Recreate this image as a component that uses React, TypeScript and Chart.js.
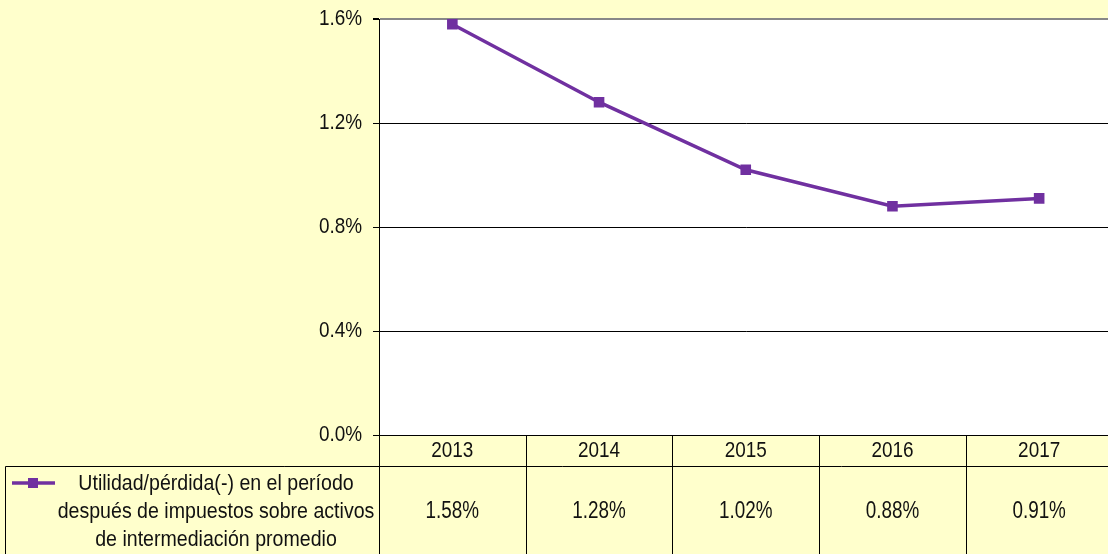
import React, { useEffect, useRef } from "react";
import { Chart, registerables } from "chart.js";

Chart.register(...registerables);

const years = ["2013", "2014", "2015", "2016", "2017"];
const values = [1.58, 1.28, 1.02, 0.88, 0.91];
const seriesLabel = [
  "Utilidad/pérdida(-) en el período",
  "después de impuestos sobre activos",
  "de intermediación promedio",
];
const yTicks = [0, 0.4, 0.8, 1.2, 1.6];

const BG = "#FFFFCC";
const PURPLE = "#7030A0";
const FONT = "'Liberation Sans', Arial, sans-serif";

function squeezed(ctx: any, text: string, x: number, y: number, align: string, size: number, sx: number) {
  ctx.save();
  ctx.translate(x, y);
  ctx.scale(sx, 1);
  ctx.font = `${size}px ${FONT}`;
  ctx.textAlign = align;
  ctx.textBaseline = "middle";
  ctx.fillText(text, 0, 0);
  ctx.restore();
}

const tablePlugin = {
  id: "dataTable",
  beforeDraw(chart: any) {
    const { ctx, width, height, chartArea } = chart;
    ctx.save();
    ctx.fillStyle = BG;
    ctx.fillRect(0, 0, width, height);
    ctx.fillStyle = "#FFFFFF";
    ctx.fillRect(chartArea.left, chartArea.top, chartArea.right - chartArea.left, chartArea.bottom - chartArea.top);
    ctx.restore();
  },
  afterDraw(chart: any) {
    const { ctx, chartArea, width, height } = chart;
    const x = chart.scales.x;
    const y = chart.scales.y;
    const n = years.length;
    const colW = (chartArea.right - chartArea.left) / n;
    const headerBottom = chartArea.bottom + 31;
    ctx.save();
    ctx.strokeStyle = "#000000";
    ctx.lineWidth = 1;
    ctx.beginPath();
    ctx.moveTo(chartArea.left, chartArea.bottom + 0.5);
    ctx.lineTo(width, chartArea.bottom + 0.5);
    ctx.moveTo(5.5, headerBottom + 0.5);
    ctx.lineTo(width, headerBottom + 0.5);
    ctx.moveTo(5.5, headerBottom + 0.5);
    ctx.lineTo(5.5, height);
    for (let i = 0; i <= n; i++) {
      const cx = Math.round(chartArea.left + i * colW) + 0.5;
      ctx.moveTo(cx, i === 0 ? chartArea.top : chartArea.bottom);
      ctx.lineTo(cx, height);
    }
    ctx.stroke();
    ctx.fillStyle = "#111111";
    yTicks.forEach((v) => {
      squeezed(ctx, v.toFixed(1) + "%", chartArea.left - 17, y.getPixelForValue(v), "right", 22, 0.86);
    });
    years.forEach((t, i) => {
      squeezed(ctx, t, x.getPixelForValue(i), chartArea.bottom + 16, "center", 22, 0.86);
    });
    values.forEach((v, i) => {
      squeezed(ctx, v.toFixed(2) + "%", x.getPixelForValue(i), headerBottom + 46, "center", 23, 0.82);
    });
    ctx.strokeStyle = PURPLE;
    ctx.lineWidth = 3.5;
    ctx.beginPath();
    ctx.moveTo(12, headerBottom + 17);
    ctx.lineTo(55, headerBottom + 17);
    ctx.stroke();
    ctx.fillStyle = PURPLE;
    ctx.fillRect(28, headerBottom + 12, 10, 10);
    ctx.fillStyle = "#111111";
    seriesLabel.forEach((t, i) => {
      squeezed(ctx, t, 216, headerBottom + 18 + i * 28, "center", 22, 0.89);
    });
    ctx.restore();
  },
};

export default function App() {
  const ref = useRef<HTMLCanvasElement>(null);
  useEffect(() => {
    if (!ref.current) return;
    const chart = new Chart(ref.current, {
      type: "line",
      data: {
        labels: years,
        datasets: [
          {
            label: seriesLabel.join(" "),
            data: values,
            borderColor: PURPLE,
            backgroundColor: PURPLE,
            borderWidth: 3.5,
            pointStyle: "rect",
            pointRadius: 7.5,
            pointBorderWidth: 0,
            pointHoverRadius: 7.5,
            tension: 0,
          },
        ],
      },
      options: {
        animation: false,
        responsive: false,
        maintainAspectRatio: false,
        layout: { padding: { top: 19, right: 3, left: 0, bottom: 0 } },
        plugins: { legend: { display: false }, tooltip: { enabled: false } },
        scales: {
          x: {
            offset: true,
            grid: { display: false, drawTicks: false },
            border: { display: false },
            ticks: { display: false },
            afterFit(scale: any) {
              scale.height = 119;
            },
          },
          y: {
            min: 0,
            max: 1.6,
            afterBuildTicks(scale: any) {
              scale.ticks = yTicks.map((v) => ({ value: v }));
            },
            grid: {
              color: (c: any) => (c.tick && c.tick.value === 1.6 ? "#888888" : "#000000"),
              lineWidth: (c: any) => (c.tick && c.tick.value === 1.6 ? 2 : 1),
              tickLength: 6,
              tickColor: "#000000",
            },
            border: { display: true, color: "#000000", width: 1 },
            ticks: { display: false },
            afterFit(scale: any) {
              scale.width = 379;
            },
          },
        },
      },
      plugins: [tablePlugin],
    });
    return () => chart.destroy();
  }, []);
  return (
    <div style={{ position: "fixed", left: 0, top: 0, width: 1120, height: 554, background: BG }}>
      <canvas ref={ref} width={1120} height={554} style={{ display: "block" }} />
    </div>
  );
}
